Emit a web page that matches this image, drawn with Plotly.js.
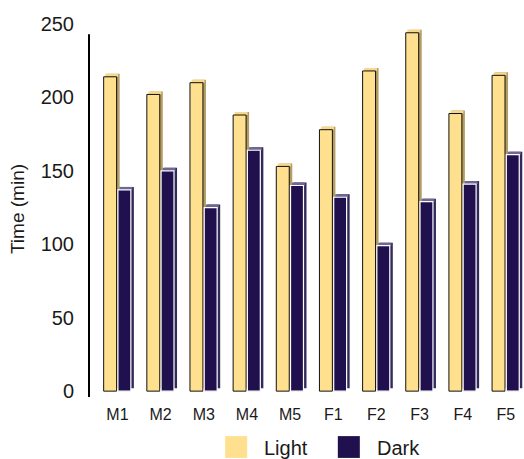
<!DOCTYPE html>
<html>
<head>
<meta charset="utf-8">
<script src="https://cdn.plot.ly/plotly-3.0.1.min.js"></script>
<style>html,body{margin:0;padding:0;background:#fff;}#chart{width:524px;height:459px;}</style>
</head>
<body>
<div id="chart"></div>
<script>
const categories = ["M1","M2","M3","M4","M5","F1","F2","F3","F4","F5"];
const lightValues = [214, 202, 210, 188, 153, 178, 218, 244, 189, 215];
const darkValues  = [137, 150, 125, 164, 140, 132, 99, 129, 141, 161];
const seriesNames = ["Light", "Dark"];
const yTicks = [0, 50, 100, 150, 200, 250];

const LIGHT = "#fee08f", LIGHT_TOP = "#f6d98c", LIGHT_SIDE = "#b49d63";
const DARK = "#21104e", DARK_TOP = "#6f6893", DARK_SIDE = "#332a5c";
const W = 0.3, DX = 0.07, DY = 2.04;
const lightOff = -0.32, darkOff = 0.01;

function shadowTraces(vals, off, side, top) {
  return [
    {type:"bar", x:categories, y:vals, base:vals.map(()=>DY), offset:off+DX, width:W,
     marker:{color:side, line:{width:0}}, showlegend:false, hoverinfo:"skip"},
    {type:"bar", x:categories, y:vals.map(()=>DY), base:vals, offset:off+DX/2, width:W,
     marker:{color:top, line:{width:0}}, showlegend:false, hoverinfo:"skip"}
  ];
}

const traces = [
  ...shadowTraces(lightValues, lightOff, LIGHT_SIDE, LIGHT_TOP),
  {type:"bar", name:seriesNames[0], x:categories, y:lightValues, offset:lightOff, width:W,
   marker:{color:LIGHT, line:{color:"#111", width:1}}, showlegend:false},
  ...shadowTraces(darkValues, darkOff, DARK_SIDE, DARK_TOP),
  {type:"bar", name:seriesNames[1], x:categories, y:darkValues, offset:darkOff, width:W,
   marker:{color:DARK, line:{color:"#ffffff", width:1.2}}, showlegend:false}
];

const font = {family:"Liberation Sans, Arial, sans-serif", color:"#1a1a1a"};

// custom legend (large squares)
const legendX = [0.313, 0.572];
const legendColors = [LIGHT, DARK];
const shapes = [
  {type:"line", xref:"paper", yref:"y", x0:0, x1:0, y0:-4, y1:243, line:{color:"#000", width:2}}
];
const annotations = [];
seriesNames.forEach((n,i)=>{
  shapes.push({type:"rect", xref:"paper", yref:"paper", x0:legendX[i], x1:legendX[i]+0.0506,
    y0:-0.162, y1:-0.104, fillcolor:legendColors[i], line:{width:0}});
  annotations.push({xref:"paper", yref:"paper", x:legendX[i]+0.0506+0.035, y:-0.135, xanchor:"left", yanchor:"middle",
    text:n, showarrow:false, font:Object.assign({}, font, {size:20})});
});

const layout = {
  width:524, height:459,
  margin:{l:89, r:0, t:21, b:62},
  paper_bgcolor:"#fff", plot_bgcolor:"#fff",
  barmode:"overlay",
  showlegend:false,
  font:font,
  xaxis:{type:"category", range:[-0.66, 9.42], showline:false, showgrid:false, zeroline:false,
    ticks:"outside", ticklen:3, tickcolor:"rgba(0,0,0,0)", tickfont:{size:16}},
  yaxis:{range:[-4, 252], tickvals:yTicks, ticktext:yTicks.map(String), showline:false, showgrid:false, zeroline:false,
    ticks:"outside", ticklen:10, tickcolor:"rgba(0,0,0,0)", tickfont:{size:20},
    title:{text:"Time (min)", font:{size:19}, standoff:10}},
  shapes:shapes,
  annotations:annotations
};

Plotly.newPlot("chart", traces, layout, {displayModeBar:false, staticPlot:true});
</script>
</body>
</html>
